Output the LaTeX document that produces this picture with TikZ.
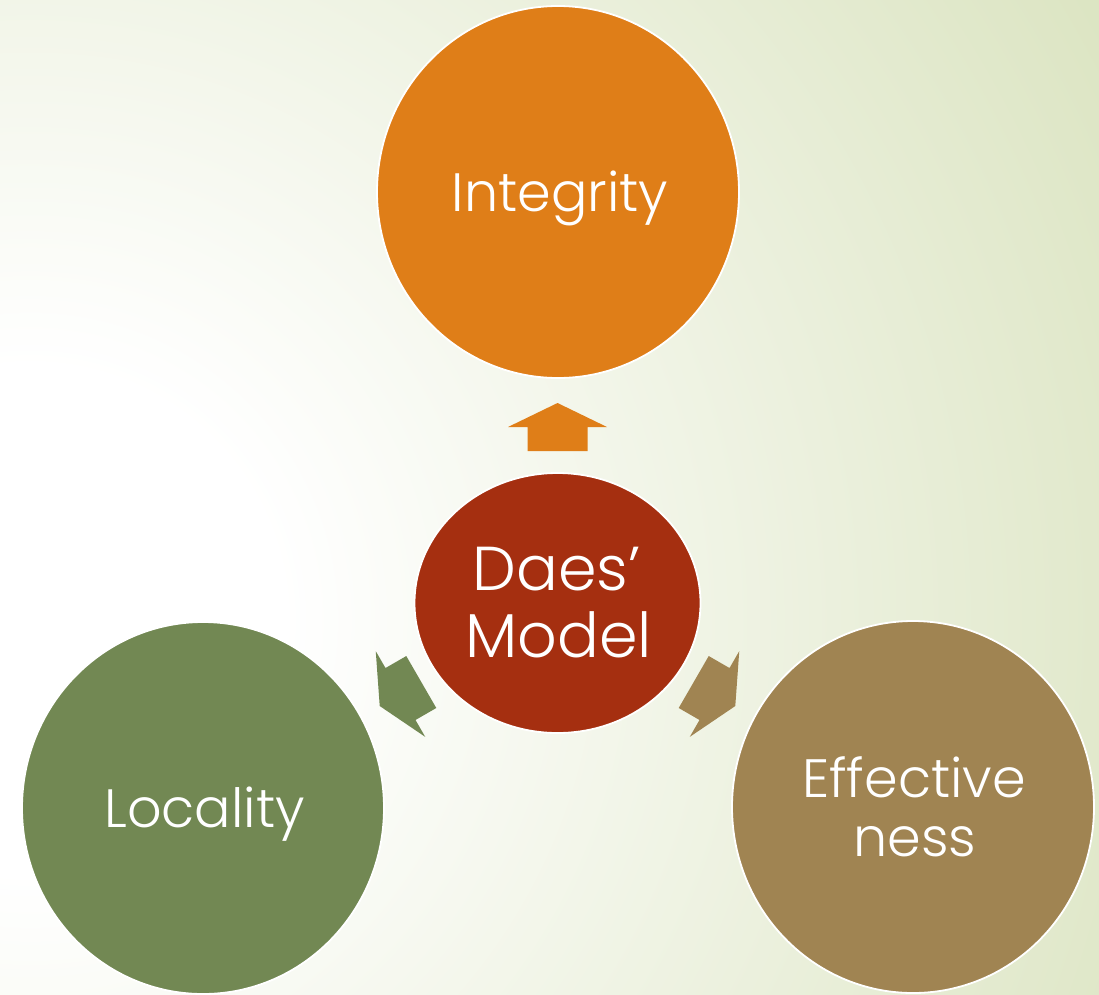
\documentclass[tikz,border=0pt]{standalone}
\usepackage{fontspec}
\setmainfont{Poppins Light}
\usetikzlibrary{shapes.geometric}

\definecolor{bgouter}{HTML}{DBE4C1}
\definecolor{integrityfill}{HTML}{DF7E18}
\definecolor{modelfill}{HTML}{A52F10}
\definecolor{localityfill}{HTML}{728853}
\definecolor{effectfill}{HTML}{A08452}

% soft white-to-green wash; 50bp is the full radius
\pgfdeclareradialshading{bgwash}{\pgfpoint{0bp}{0bp}}{%
  color(0bp)=(white); color(10bp)=(white); color(50bp)=(bgouter)}

\tikzset{
  bubble/.style={ellipse, draw=white, line width=1.8pt, inner sep=0pt,
    minimum width=362pt, minimum height=372pt},
  hub/.style={ellipse, draw=white, line width=1.8pt, inner sep=0pt,
    minimum width=286pt, minimum height=260pt, fill=modelfill},
  bubbletext/.style={anchor=base, inner sep=0pt, text=white,
    font=\fontsize{54}{54}\selectfont},
  hubtext/.style={anchor=base, inner sep=0pt, text=white,
    font=\fontsize{62}{62}\selectfont},
  blockarrow/.pic={
    \fill[pic actions] (0,24) -- (30,24) -- (30,0) -- (49.5,0) -- (0,-24)
      -- (-49.5,0) -- (-30,0) -- (-30,24) -- cycle;
  }
}

\begin{document}
\begin{tikzpicture}[x=1pt,y=-1pt]
  % page and background wash
  \useasboundingbox (0,0) rectangle (1099,994);
  \fill[bgouter] (0,0) rectangle (1099,994);
  \begin{scope}
    \clip (0,0) rectangle (1099,994);
    % centre of the wash at (30,620); outer colour reached at 1257pt
    \pgftransformshift{\pgfpoint{30pt}{-620pt}}
    \pgftransformscale{25.046}
    \pgflowlevelsynccm
    \pgfuseshading{bgwash}
  \end{scope}

  % outer bubbles
  \node[bubble, fill=integrityfill] (integrity) at (558,192) {};
  \node[bubble, fill=localityfill] (locality) at (203,808) {};
  \node[bubble, fill=effectfill] (effect) at (913,807) {};

  % central bubble
  \node[hub] (model) at (557.5,603) {};

  % bubble labels, placed on their baselines
  \node[bubbletext] (integrity-label) at (560,211) {Integrity};
  \node[bubbletext] (locality-label) at (204.5,827) {Locality};
  \node[bubbletext] (effect-label-a) at (914,797) {Effective};
  \node[bubbletext] (effect-label-b) at (915,856) {ness};
  \node[hubtext] (model-label-a) at (556.5,590) {Daes’};
  \node[hubtext] (model-label-b) at (558.5,657) {Model};

  % arrows from the hub outwards
  \coordinate (toint) at (557.5,427);
  \coordinate (toloc) at (400.5,694);
  \coordinate (toeff) at (714.5,694);
  \pic[fill=integrityfill] at (toint) {blockarrow};
  \pic[fill=localityfill, rotate=120] at (toloc) {blockarrow};
  \pic[fill=effectfill, rotate=-120] at (toeff) {blockarrow};
\end{tikzpicture}
\end{document}
